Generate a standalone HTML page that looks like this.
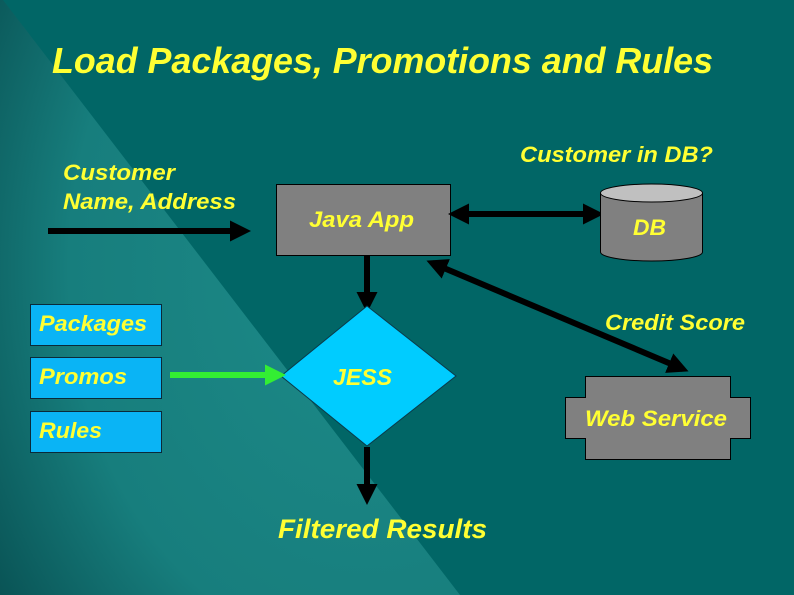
<!DOCTYPE html>
<html><head><meta charset="utf-8"><style>
html,body{margin:0;padding:0;width:794px;height:595px;overflow:hidden;background:#016666}
svg{display:block}
text{font-family:"Liberation Sans",sans-serif;font-weight:bold;font-style:italic;fill:#ffff33}
</style></head><body>
<svg width="794" height="595" viewBox="0 0 794 595" xmlns="http://www.w3.org/2000/svg">
<defs>
<radialGradient id="band" cx="0.8" cy="0.45" r="1.0">
<stop offset="0" stop-color="#1d8a88"/>
<stop offset="0.65" stop-color="#177e7d"/>
<stop offset="1" stop-color="#085052"/>
</radialGradient>
<marker id="ah" markerWidth="3.5" markerHeight="3.5" refX="2.5" refY="1.75" orient="auto" markerUnits="strokeWidth">
<path d="M0,0 L3.5,1.75 L0,3.5 z" fill="#000"/></marker>
<marker id="ahs" markerWidth="3.5" markerHeight="3.5" refX="1" refY="1.75" orient="auto" markerUnits="strokeWidth">
<path d="M3.5,0 L0,1.75 L3.5,3.5 z" fill="#000"/></marker>
<marker id="ahg" markerWidth="3.5" markerHeight="3.5" refX="2.5" refY="1.75" orient="auto" markerUnits="strokeWidth">
<path d="M0,0 L3.5,1.75 L0,3.5 z" fill="#33ee33"/></marker>
</defs>
<rect width="794" height="595" fill="#016666"/>
<polygon points="0,0 3,0 460,595 0,595" fill="url(#band)"/>

<text x="52" y="73" font-size="36" textLength="661" lengthAdjust="spacingAndGlyphs">Load Packages, Promotions and Rules</text>

<text x="63" y="180" font-size="22" textLength="112" lengthAdjust="spacingAndGlyphs">Customer</text>
<text x="63" y="209" font-size="22" textLength="173" lengthAdjust="spacingAndGlyphs">Name, Address</text>
<line x1="48" y1="231" x2="245" y2="231" stroke="#000" stroke-width="6" marker-end="url(#ah)"/>

<rect x="276.5" y="184.5" width="174" height="71" fill="#808080" stroke="#000"/>
<text x="309" y="227" font-size="22" textLength="105" lengthAdjust="spacingAndGlyphs">Java App</text>

<text x="520" y="162" font-size="22" textLength="193" lengthAdjust="spacingAndGlyphs">Customer in DB?</text>
<line x1="454" y1="214" x2="598" y2="214" stroke="#000" stroke-width="6" marker-end="url(#ah)" marker-start="url(#ahs)"/>

<path d="M600.5,193 L600.5,252 A51,9 0 0 0 702.5,252 L702.5,193" fill="#808080" stroke="#000"/>
<ellipse cx="651.5" cy="193" rx="51" ry="9" fill="#c0c0c0" stroke="#000"/>
<text x="633" y="235" font-size="22" textLength="33" lengthAdjust="spacingAndGlyphs">DB</text>

<line x1="367" y1="256" x2="367" y2="307" stroke="#000" stroke-width="6" marker-end="url(#ah)"/>

<line x1="432" y1="263" x2="683" y2="369" stroke="#000" stroke-width="6" marker-end="url(#ah)" marker-start="url(#ahs)"/>
<text x="605" y="330" font-size="22" textLength="140" lengthAdjust="spacingAndGlyphs">Credit Score</text>

<polygon points="367,306 456,376 367,446 281,376" fill="#00ccff" stroke="#0a3a4a" stroke-width="1"/>
<text x="333" y="385" font-size="23" textLength="59" lengthAdjust="spacingAndGlyphs">JESS</text>

<rect x="30.5" y="304.5" width="131" height="41" fill="#0ab4f5" stroke="#0a2a3a"/>
<text x="39" y="331" font-size="22" textLength="108" lengthAdjust="spacingAndGlyphs">Packages</text>
<rect x="30.5" y="357.5" width="131" height="41" fill="#0ab4f5" stroke="#0a2a3a"/>
<text x="39" y="384" font-size="22" textLength="88" lengthAdjust="spacingAndGlyphs">Promos</text>
<rect x="30.5" y="411.5" width="131" height="41" fill="#0ab4f5" stroke="#0a2a3a"/>
<text x="39" y="438" font-size="22" textLength="63" lengthAdjust="spacingAndGlyphs">Rules</text>

<line x1="170" y1="375" x2="280" y2="375" stroke="#33ee33" stroke-width="6" marker-end="url(#ahg)"/>

<line x1="367" y1="447" x2="367" y2="499" stroke="#000" stroke-width="6" marker-end="url(#ah)"/>
<text x="278" y="538" font-size="27" textLength="209" lengthAdjust="spacingAndGlyphs">Filtered Results</text>

<polygon points="585.5,376.5 730.5,376.5 730.5,397.5 750.5,397.5 750.5,438.5 730.5,438.5 730.5,459.5 585.5,459.5 585.5,438.5 565.5,438.5 565.5,397.5 585.5,397.5" fill="#808080" stroke="#000"/>
<text x="585" y="426" font-size="22" textLength="142" lengthAdjust="spacingAndGlyphs">Web Service</text>
</svg>
</body></html>
